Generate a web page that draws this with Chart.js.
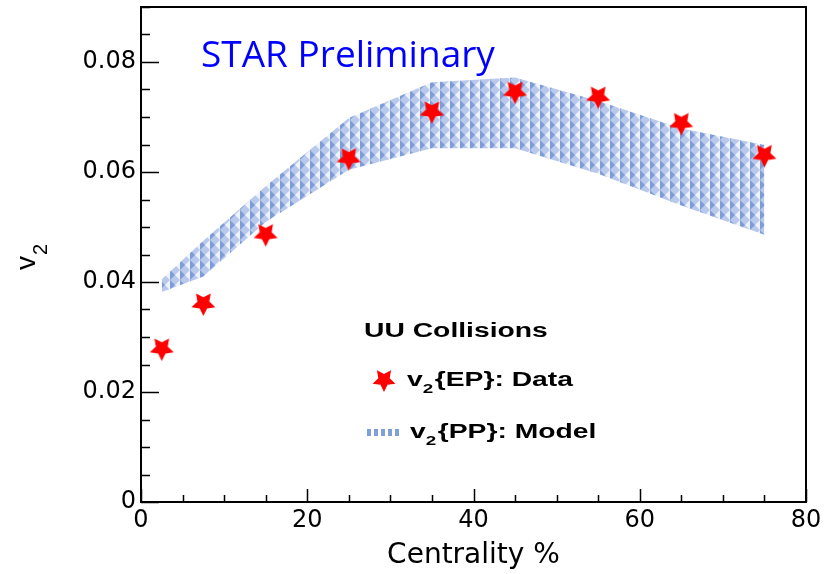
<!DOCTYPE html>
<html lang="en">
  <head>
    <meta charset="UTF-8" />
    <script src="https://cdn.jsdelivr.net/npm/chart.js@4.4.1/dist/chart.umd.min.js"></script>
    <title>UU v2 vs centrality</title>
    <style>
      body { margin: 0; background: #fff; }
    </style>
  </head>
  <body>
    <canvas id="myChart" width="833" height="574"></canvas>
  </body>
  <script>
    // values
    const centrality = [2.5, 7.5, 15, 25, 35, 45, 55, 65, 75];
    const v2Data = [0.0279, 0.0361, 0.0487, 0.0625, 0.0710, 0.0746, 0.0737, 0.0689, 0.0631];
    const modelUpper = [0.0405, 0.0475, 0.0574, 0.0698, 0.0763, 0.0772, 0.0729, 0.0679, 0.0649];
    const modelLower = [0.0382, 0.0410, 0.0509, 0.0604, 0.0643, 0.0643, 0.0597, 0.0539, 0.0486];
    const xTickVals = [0, 20, 40, 60, 80];
    const yTickVals = [0, 0.02, 0.04, 0.06, 0.08];

    function makeStar(r) {
      const c = document.createElement("canvas");
      const s = Math.ceil(r * 2 + 2);
      c.width = s;
      c.height = s;
      const g = c.getContext("2d");
      g.translate(s / 2, s / 2);
      g.beginPath();
      for (let i = 0; i < 10; i++) {
        const a = Math.PI / 2 + (i * Math.PI) / 5; // first point down
        const rad = i % 2 ? r * 0.5 : r;
        g.lineTo(Math.cos(a) * rad, Math.sin(a) * rad);
      }
      g.closePath();
      g.fillStyle = "#ff0000";
      g.fill();
      return c;
    }

    function makeHatch() {
      const t = document.createElement("canvas");
      t.width = 10;
      t.height = 10;
      const g = t.getContext("2d");
      g.fillStyle = "#b9c9ec";
      g.fillRect(0, 0, 10, 10);
      g.fillStyle = "#7e9cd7";
      g.beginPath();
      g.moveTo(0, 0); g.lineTo(5, 5); g.lineTo(0, 10);
      g.fill();
      g.fillStyle = "#eef2fb";
      g.beginPath();
      g.moveTo(10, 0); g.lineTo(5, 5); g.lineTo(10, 10);
      g.fill();
      return g.createPattern(t, "repeat");
    }

    const starImg = makeStar(12.5);
    const legendStar = makeStar(12);
    const hatch = makeHatch();

    const pts = (ys) => centrality.map((c, i) => ({ x: c, y: ys[i] }));

    // text with a subscript, stretched sideways like the original ROOT fonts
    function subText(ctx, x, y, pre, sub, post, size, stretch) {
      ctx.save();
      ctx.translate(x, y);
      ctx.scale(stretch, 1);
      ctx.font = "bold " + size + 'px "Liberation Sans"';
      ctx.fillText(pre, 0, 0);
      let w = ctx.measureText(pre).width;
      ctx.font = "bold " + Math.round(size * 0.68) + 'px "Liberation Sans"';
      ctx.fillText(sub, w, 7);
      w += ctx.measureText(sub).width + 1;
      ctx.font = "bold " + size + 'px "Liberation Sans"';
      ctx.fillText(post, w, 0);
      ctx.restore();
    }

    const frameTicks = {
      id: "frameTicks",
      beforeDraw(chart) {
        const ctx = chart.ctx;
        ctx.save();
        ctx.fillStyle = "#fff";
        ctx.fillRect(0, 0, chart.width, chart.height);
        ctx.restore();
      },
      afterDraw(chart) {
        const { ctx, chartArea: a, scales } = chart;
        ctx.save();
        ctx.strokeStyle = "#000";
        ctx.lineWidth = 2;
        ctx.strokeRect(a.left, a.top, a.right - a.left, a.bottom - a.top);
        ctx.lineWidth = 1.5;
        ctx.beginPath();
        // left axis ticks, pointing in
        for (let v = 0; v <= 0.09 + 1e-9; v += 0.005) {
          const y = Math.round(scales.y.getPixelForValue(v)) + 0.5;
          const major = Math.abs(v / 0.02 - Math.round(v / 0.02)) < 1e-6;
          ctx.moveTo(a.left, y);
          ctx.lineTo(a.left + (major ? 18 : 9), y);
        }
        // bottom axis ticks
        for (let v = 0; v <= 80; v += 5) {
          const x = Math.round(scales.x.getPixelForValue(v)) + 0.5;
          ctx.moveTo(x, a.bottom);
          ctx.lineTo(x, a.bottom - (v % 20 === 0 ? 13 : 7));
        }
        ctx.stroke();

        // y axis title v2
        ctx.fillStyle = "#000";
        ctx.save();
        ctx.translate(35, 270);
        ctx.rotate(-Math.PI / 2);
        ctx.font = '28px "Liberation Sans"';
        ctx.fillText("v", 0, 0);
        ctx.font = '20px "Liberation Sans"';
        ctx.fillText("2", 15, 12);
        ctx.restore();

        // STAR Preliminary
        ctx.fillStyle = "#0000ff";
        ctx.font = '37px "Open Sans"';
        ctx.textBaseline = "alphabetic";
        ctx.fillText("STAR Preliminary", 201, 67);

        // legend
        ctx.fillStyle = "#000";
        ctx.save();
        ctx.translate(364, 337);
        ctx.scale(1.45, 1);
        ctx.font = 'bold 19.5px "Liberation Sans"';
        ctx.fillText("UU Collisions", 0, 0);
        ctx.restore();
        ctx.drawImage(legendStar, 384 - legendStar.width / 2, 380 - legendStar.height / 2);
        subText(ctx, 407, 386, "v", "2", "{EP}: Data", 19.5, 1.45);
        ctx.fillStyle = "#7f9fd8";
        for (let i = 0; i < 5; i++) ctx.fillRect(367 + i * 7, 429, 4, 7);
        ctx.fillStyle = "#000";
        subText(ctx, 410, 438, "v", "2", "{PP}: Model", 19.5, 1.45);
        ctx.restore();
      },
    };

    new Chart("myChart", {
      type: "scatter",
      data: {
        datasets: [
          {
            label: "v2{EP}: Data",
            data: pts(v2Data),
            pointStyle: starImg,
            order: 0,
          },
          {
            label: "model upper",
            data: pts(modelUpper),
            showLine: true,
            borderWidth: 0,
            pointRadius: 0,
            backgroundColor: hatch,
            fill: "+1",
            order: 1,
          },
          {
            label: "model lower",
            data: pts(modelLower),
            showLine: true,
            borderWidth: 0,
            pointRadius: 0,
            fill: false,
            order: 2,
          },
        ],
      },
      options: {
        responsive: false,
        animation: false,
        layout: { padding: { left: 0, top: 7, right: 27, bottom: 0 } },
        plugins: { legend: { display: false }, tooltip: { enabled: false } },
        scales: {
          x: {
            type: "linear",
            min: 0,
            max: 80,
            grid: { display: false, drawTicks: false },
            border: { display: false },
            afterBuildTicks: (s) => { s.ticks = xTickVals.map((v) => ({ value: v })); },
            afterFit: (s) => { s.height = 72; s.paddingLeft = 0; s.paddingRight = 0; },
            ticks: {
              padding: 4,
              color: "#000",
              font: { family: "DejaVu Sans", size: 24 },
              maxRotation: 0,
            },
            title: {
              display: true,
              text: "Centrality %",
              color: "#000",
              font: { family: "DejaVu Sans", size: 28 },
              padding: 1,
            },
          },
          y: {
            min: 0,
            max: 0.09,
            grid: { display: false, drawTicks: false },
            border: { display: false },
            afterBuildTicks: (s) => { s.ticks = yTickVals.map((v) => ({ value: v })); },
            afterFit: (s) => { s.width = 141; s.paddingTop = 0; s.paddingBottom = 0; },
            ticks: {
              padding: 5,
              color: "#000",
              font: { family: "DejaVu Sans", size: 24 },
              callback: (v) => (v === 0 ? "0" : v.toFixed(2)),
            },
          },
        },
      },
      plugins: [frameTicks],
    });
  </script>
</html>
